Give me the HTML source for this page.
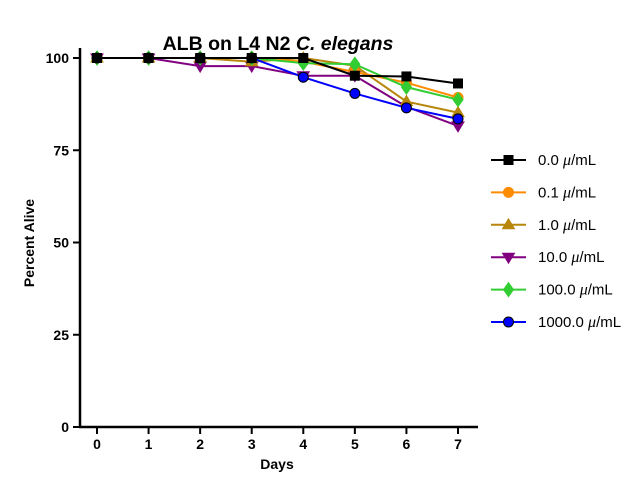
<!DOCTYPE html>
<html><head><meta charset="utf-8"><style>
body{margin:0;background:#fff;}
svg text{font-family:"Liberation Sans",sans-serif;}
</style></head><body>
<svg id="chart" width="640" height="480" xmlns="http://www.w3.org/2000/svg">
<text x="278" y="50" text-anchor="middle" font-size="19.5" font-weight="bold">ALB on L4 N2 <tspan font-style="italic">C. elegans</tspan></text>
<g id="axes"></g>
<g id="series"></g>
<g id="legend"></g>
</svg>
<script>
const days = [0,1,2,3,4,5,6,7];
const yTicks = [0,25,50,75,100];
const seriesNames = ["0.0 \u03bc/mL","0.1 \u03bc/mL","1.0 \u03bc/mL","10.0 \u03bc/mL","100.0 \u03bc/mL","1000.0 \u03bc/mL"];
const seriesColors = ["#000000","#ff8c00","#b8860b","#800080","#32cd32","#0000ff"];
const seriesMarkers = ["square","circle","triangle","tridown","diamond","circleb"];
const s0 = [100,100,100,100,100,95.2,95,93.1];
const s01 = [100,100,100,100,99,96.2,93.3,89.3];
const s1 = [100,100,100,99,100,97.9,88.2,85.2];
const s10 = [100,100,97.8,97.8,95.2,95.2,86.8,81.6];
const s100 = [100,100,100,100,98.6,98.3,92.1,88.7];
const s1000 = [100,100,100,100,94.8,90.4,86.5,83.5];
const allSeries = [s0,s01,s1,s10,s100,s1000];

const NS="http://www.w3.org/2000/svg";
const X = d => 97 + d*(458-97)/7;
const Y = v => 427 - v*(427-58)/100;
function mk(tag, attrs, parent){const e=document.createElementNS(NS,tag);for(const k in attrs)e.setAttribute(k,attrs[k]);parent.appendChild(e);return e;}
const axes=document.getElementById('axes');
let yl=mk('line',{x1:80,y1:48,x2:80,y2:427,stroke:'#000','stroke-width':2.5},axes);


let xl=mk('line',{x1:79,y1:427,x2:478,y2:427,stroke:'#000','stroke-width':2.5},axes);


yTicks.forEach(t=>{
  mk('line',{x1:73,y1:Y(t),x2:80,y2:Y(t),stroke:'#000','stroke-width':2},axes);
  const tx=mk('text',{x:69,y:Y(t)+5,'text-anchor':'end','font-size':14,'font-weight':'bold'},axes);
  tx.textContent=t;
  
  
});
days.forEach(d=>{
  mk('line',{x1:X(d),y1:427,x2:X(d),y2:434,stroke:'#000','stroke-width':2},axes);
  const tx=mk('text',{x:X(d),y:449,'text-anchor':'middle','font-size':14,'font-weight':'bold'},axes);
  tx.textContent=d;
  
  
});
const xt=mk('text',{x:277,y:469,'text-anchor':'middle','font-size':14,'font-weight':'bold'},axes);
xt.textContent='Days';


const yt=mk('text',{x:34,y:243,'text-anchor':'middle','font-size':14,'font-weight':'bold',transform:'rotate(-90 34 243)'},axes);
yt.textContent='Percent Alive';



function marker(type,x,y,color,parent){
  const st={fill:color,stroke:color,'stroke-width':1};
  let e;
  if(type==='square') e=mk('rect',{x:x-5,y:y-5,width:10,height:10,fill:'#000'},parent);
  else if(type==='circle') e=mk('circle',Object.assign({cx:x,cy:y,r:5},st),parent);
  else if(type==='circleb') e=mk('circle',{cx:x,cy:y,r:5,fill:color,stroke:'#000','stroke-width':1},parent);
  else if(type==='triangle') e=mk('polygon',{points:`${x},${y-6} ${x-6},${y+4} ${x+6},${y+4}`,fill:color,stroke:color,'stroke-width':1},parent);
  else if(type==='tridown') e=mk('polygon',{points:`${x},${y+6} ${x-6},${y-4} ${x+6},${y-4}`,fill:color,stroke:color,'stroke-width':1},parent);
  else e=mk('polygon',{points:`${x},${y-7} ${x-5},${y} ${x},${y+7} ${x+5},${y}`,fill:color,stroke:color,'stroke-width':1},parent);
  return e;
}
const sg=document.getElementById('series');
const order=[3,2,1,4,5,0];
order.forEach(i=>{
  const g=mk('g',{},sg);
  
  
  const pts=allSeries[i].map((v,j)=>X(days[j])+','+Y(v)).join(' ');
  const pl=mk('polyline',{points:pts,fill:'none',stroke:seriesColors[i],'stroke-width':2},g);
  
  
  allSeries[i].forEach((v,j)=>{
    const m=marker(seriesMarkers[i],X(days[j]),Y(v),seriesColors[i],g);
    
    
  });
});
const lg=document.getElementById('legend');
seriesNames.forEach((n,i)=>{
  const y=160+i*32.4;
  const g=mk('g',{},lg);
  
  
  mk('line',{x1:491,y1:y,x2:526,y2:y,stroke:seriesColors[i],'stroke-width':2},g);
  marker(seriesMarkers[i],508.5,y,seriesColors[i],g);
  const t=mk('text',{x:538,y:y+5,'font-size':15},g);
  const parts=n.split('\u03bc');
  t.appendChild(document.createTextNode(parts[0]));
  const ts=mk('tspan',{'font-style':'italic','font-family':'"Liberation Serif",serif','font-size':16},t);
  ts.textContent='\u03bc';
  t.appendChild(document.createTextNode(parts[1]));
});
</script>
</body></html>
